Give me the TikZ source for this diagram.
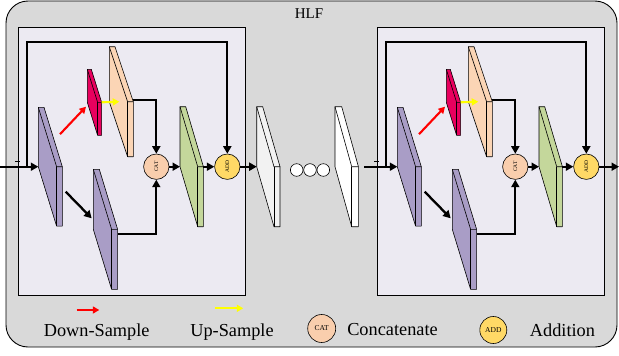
\documentclass[tikz,border=0pt]{standalone}
\usepackage{fontspec}
\setmainfont{Liberation Serif}
\usetikzlibrary{arrows.meta,calc}

\definecolor{hlfgray}{HTML}{D9D9D9}
\definecolor{blockbg}{HTML}{ECEAF2}
\definecolor{convpurple}{HTML}{A99DC6}
\definecolor{downpink}{HTML}{E8005E}
\definecolor{uppeach}{HTML}{FBD5B5}
\definecolor{fusegreen}{HTML}{C4D79B}
\definecolor{catpeach}{HTML}{F9CEAD}
\definecolor{addgold}{HTML}{FFD966}
\definecolor{upyellow}{HTML}{FFFF00}

% slab: name, x, y, h, dx, t, fill
\newcommand{\slab}[7]{
  \filldraw[slabline, fill=#7] (#2,#3) -- ++(#6,0) -- ++(#5,#4) -- ++(0,#4) -- ++(-#6,0) -- ++(-#5,-#4) -- cycle;
  \draw[slabline] (#2,#3) -- ++(#5,#4) -- ++(#6,0);
  \draw[slabline] (#2+#5,#3+#4) -- ++(0,#4);
  \coordinate (#1-in) at (#2,#3+#4);
  \coordinate (#1-out) at (#2+#5+#6,#3+#4);
}

\begin{document}
\begin{tikzpicture}[
    x=1pt, y=-1pt,
    slabline/.style={draw=black, line width=0.6pt, line join=round},
    blockbox/.style={draw=black, line width=0.9pt, fill=blockbg},
    op/.style={circle, draw, line width=0.6pt, minimum size=25.4pt, inner sep=0pt, font=\fontsize{5.5}{6}\selectfont},
    legendop/.style={circle, draw, line width=0.6pt, minimum size=28pt, inner sep=0pt, font=\fontsize{7.5}{8}\selectfont},
    arrow/.style={-{Triangle[length=7.5pt,width=8pt]}, line width=2.3pt},
    downarrow/.style={-{Triangle[length=6.5pt,width=7pt]}, line width=2.1pt, draw=red},
    uparrow/.style={-{Triangle[length=6.5pt,width=7pt]}, line width=2.1pt, draw=upyellow},
    legend/.style={inner sep=0pt, font=\fontsize{18.3}{20}\selectfont}
]
\useasboundingbox (0,0) rectangle (619,356);

% HLF frame
\draw[fill=hlfgray, line width=0.9pt, rounded corners=22pt] (6,1) rectangle (617,347);
\node[inner sep=0pt, font=\fontsize{15}{16}\selectfont] at (309,14) (title) {HLF};

% Two blocks
\foreach \b/\s in {l/0, r/359}{
  \begin{scope}[xshift=\s]
    \draw[blockbox] (18,27) rectangle (245,295);
    \draw[line width=0.5pt] (15,161.7) -- (20,161.7);
    \coordinate (\b-br) at (27,166.7);

    % Slabs
    \slab{\b-p1}{38.3}{107.3}{59.4}{18.3}{5.7}{convpurple}
    \slab{\b-dn}{87.3}{69.3}{33}{10.3}{4}{downpink}
    \slab{\b-up}{109.3}{46.7}{55}{18.3}{5.7}{uppeach}
    \slab{\b-p2}{93.3}{169.3}{60}{18.3}{6}{convpurple}
    \slab{\b-gr}{180}{106.7}{60}{17.7}{5.7}{fusegreen}

    % Operations
    \node[op, fill=catpeach] at (156.3,166.7) (\b-cat) {\rotatebox{90}{CAT}};
    \node[op, fill=addgold] at (227.3,166.7) (\b-add) {\rotatebox{90}{ADD}};

    % Arrows
    \draw[downarrow] ($(\b-p1-out)+(-2.3,-32.5)$) -- ($(\b-dn-in)+(-1.3,4.4)$);
    \draw[uparrow] (\b-dn-out) -- ([xshift=10]\b-up-in);
    \draw[arrow] ($(\b-p1-out)+(3.4,25)$) -- ($(\b-p2-in)+(-1.6,-11)$);
    \draw[arrow] ([yshift=2]\b-up-out) -| (\b-cat);
    \draw[arrow] ([yshift=-5]\b-p2-out) -| (\b-cat);
    \draw[arrow] (\b-cat) -- (\b-gr-in);
    \draw[arrow] (\b-gr-out) -- (\b-add);
    \draw[arrow] (\b-br) -- ++(0,-124.7) -| (\b-add);
  \end{scope}
}

% Between the blocks
\slab{w1}{256.7}{106.7}{60}{17.3}{6}{black!5}
\slab{w2}{335}{106.7}{60}{16.7}{6.7}{white}
\foreach \i/\x in {1/296.7, 2/310, 3/323.3}
  \node[circle, draw, fill=white, line width=0.6pt, minimum size=12.6pt, inner sep=0pt] at (\x,170) (dot\i) {};

% Input and output
\coordinate (in) at (0,166.7);
\coordinate (out) at (619,166.7);
\draw[arrow] (in) -- (l-p1-in);
\draw[arrow] (l-add) -- (w1-in);
\draw[line width=2.3pt] ([xshift=6]w2-out) -- (r-br);
\draw[arrow] (r-br) -- (r-p1-in);
\draw[arrow] (r-add) -- (out);

% Legend
\coordinate (ds1) at (76.7,310);
\coordinate (ds2) at (99.3,310);
\coordinate (us1) at (215,308.3);
\coordinate (us2) at (243.3,308.3);
\draw[downarrow] (ds1) -- (ds2);
\draw[uparrow] (us1) -- (us2);
\node[legend] at (96.7,331.7) (dslabel) {Down-Sample};
\node[legend] at (232,331.7) (uslabel) {Up-Sample};
\node[legendop, fill=catpeach] at (321.7,328.5) (catkey) {CAT};
\node[legend] at (392.5,329.5) (catlabel) {Concatenate};
\node[legendop, fill=addgold, minimum size=27pt] at (493.3,330) (addkey) {ADD};
\node[legend] at (562.5,330.5) (addlabel) {Addition};

\end{tikzpicture}
\end{document}
